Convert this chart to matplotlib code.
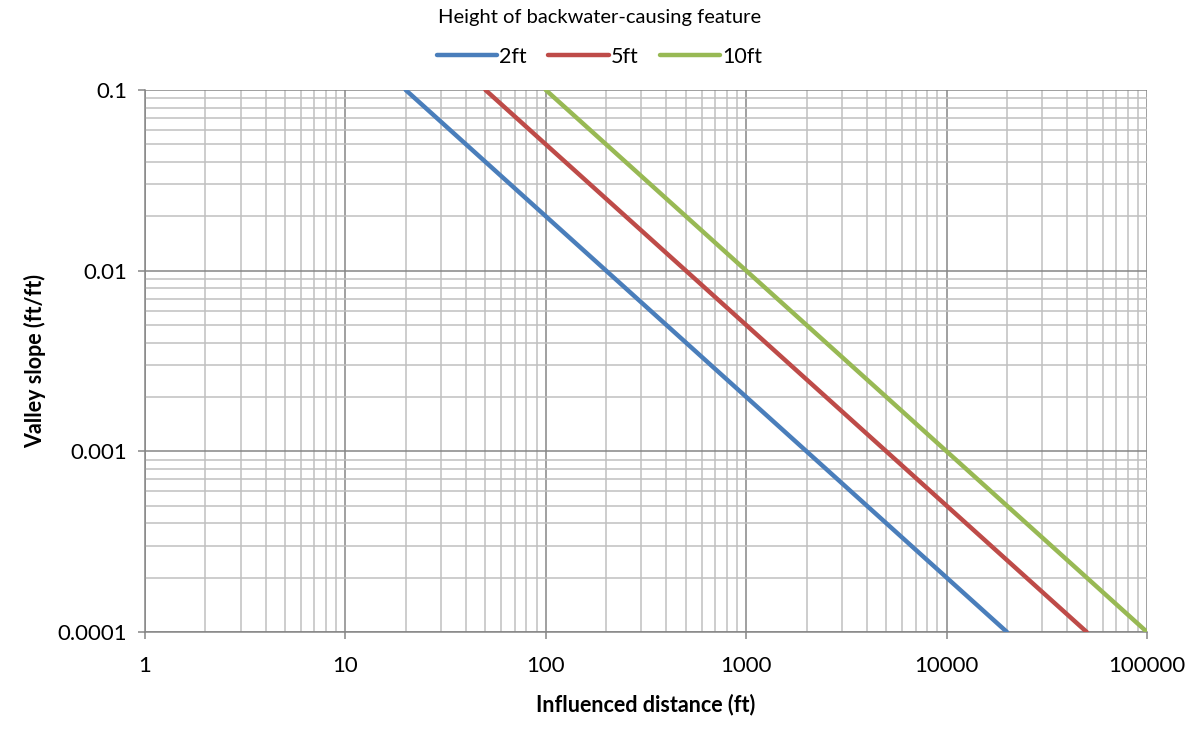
import matplotlib.pyplot as plt
from matplotlib.ticker import LogLocator, FixedLocator, NullFormatter

plt.rcParams['font.family'] = ['Lato', 'DejaVu Sans']

# influenced distance (ft) at each end of the line, and valley slope there
labels = ['2ft', '5ft', '10ft']
dist_2ft = [20, 20000]
dist_5ft = [50, 50000]
dist_10ft = [100, 100000]
slope = [0.1, 0.0001]
colors = ['#4a7ebb', '#be4b48', '#98b954']

xticks = [1, 10, 100, 1000, 10000, 100000]
xtick_labels = ['1', '10', '100', '1000', '10000', '100000']
yticks = [0.0001, 0.001, 0.01, 0.1]
ytick_labels = ['0.0001', '0.001', '0.01', '0.1']

fig = plt.figure(figsize=(11.99, 7.31), dpi=100)
ax = fig.add_axes([145 / 1199, 99 / 731, 1002 / 1199, 542 / 731])

for d, lab, c in zip([dist_2ft, dist_5ft, dist_10ft], labels, colors):
    ax.plot(d, slope, color=c, lw=3.2, label=lab, solid_capstyle='round', zorder=3)

ax.set_xscale('log')
ax.set_yscale('log')
ax.set_xlim(1, 100000)
ax.set_ylim(0.0001, 0.1)

ax.xaxis.set_major_locator(FixedLocator(xticks))
ax.set_xticklabels(xtick_labels)
ax.yaxis.set_major_locator(FixedLocator(yticks))
ax.set_yticklabels(ytick_labels)
ax.xaxis.set_minor_locator(LogLocator(base=10, subs=range(2, 10), numticks=20))
ax.yaxis.set_minor_locator(LogLocator(base=10, subs=range(2, 10), numticks=20))
ax.xaxis.set_minor_formatter(NullFormatter())
ax.yaxis.set_minor_formatter(NullFormatter())

ax.grid(which='major', color='#868686', lw=1.1)
ax.grid(which='minor', color='#c0c0c0', lw=1.1)
ax.set_axisbelow(True)

ax.tick_params(which='major', direction='out', length=5, width=1.1, color='#868686',
               labelsize=16, pad=12)
ax.tick_params(which='minor', length=0)
ax.tick_params(axis='y', pad=8)
for s in ['top', 'right']:
    ax.spines[s].set_visible(False)
for s in ['left', 'bottom']:
    ax.spines[s].set_color('#868686')
    ax.spines[s].set_linewidth(1.1)

ax.set_xlabel('Influenced distance (ft)', fontsize=15.5, fontweight='bold', labelpad=13)
ax.set_ylabel('Valley slope (ft/ft)', fontsize=15.5, fontweight='bold', labelpad=8)

fig.text(0.5, 1 - 18 / 731, 'Height of backwater-causing feature', ha='center', va='center',
         fontsize=14.5)
fig.legend(loc='center', bbox_to_anchor=(0.5, 1 - 57 / 731), ncol=3, frameon=False,
           fontsize=15.5, handlelength=2.8, handletextpad=0.1, columnspacing=1.0)

fig.savefig('out.png', dpi=100)
